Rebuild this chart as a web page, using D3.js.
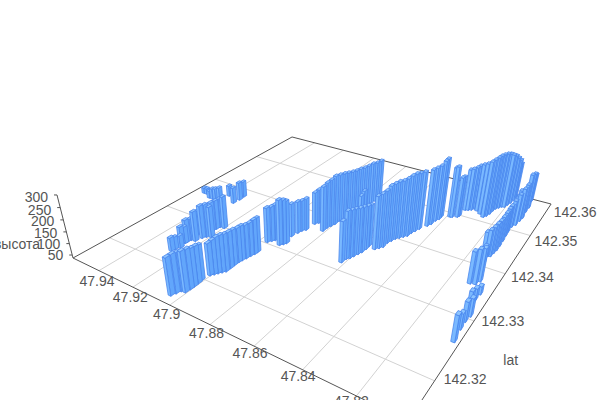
<!DOCTYPE html><html><head><meta charset="utf-8"><script src="https://cdnjs.cloudflare.com/ajax/libs/d3/7.8.5/d3.min.js"></script>
<style>html,body{margin:0;background:#fff;overflow:hidden}text{font-family:"Liberation Sans",Arial,sans-serif;font-size:14px;fill:#555}</style></head><body><svg width="600" height="400"></svg><script>
const lonTicks=[47.94,47.92,47.9,47.88,47.86,47.84,47.82];
const latTicks=[142.32,142.33,142.34,142.35,142.36];
const heightTicks=[50,100,150,200,250,300];
const lons=[47.9042,47.9035,47.9028,47.9010,47.9008,47.9008,47.9009,47.9013,47.9264,47.9261,47.9249,47.9268,47.9259,47.9258,47.9254,47.9234,47.9261,47.9226,47.9216,47.9198,47.9229,47.9226,47.9222,47.9201,47.9512,47.9496,47.9455,47.9435,47.9416,47.9392,47.9386,47.9321,47.9317,47.9320,47.9006,47.8997,47.8989,47.8980,47.8971,47.8971,47.8972,47.8971,47.8968,47.8963,47.8959,47.8954,47.8953,47.8966,47.8956,47.8947,47.8908,47.8898,47.8892,47.8907,47.8900,47.8895,47.8884,47.8880,47.8870,47.8816,47.8815,47.8809,47.8803,47.8802,47.8796,47.8790,47.8784,47.8774,47.8772,47.8766,47.8769,47.8763,47.8756,47.8750,47.8617,47.8614,47.8604,47.8598,47.8591,47.8585,47.8582,47.8583,47.8699,47.8701,47.8550,47.8539,47.8529,47.8529,47.8522,47.8515,47.8504,47.8493,47.8482,47.8478,47.8471,47.8463,47.8444,47.8436,47.8432,47.8424,47.8424,47.8389,47.8381,47.8361,47.8357,47.8355,47.8343,47.8331,47.8323,47.8304,47.8282,47.8260,47.8252,47.8246,47.8244,47.8239,47.8230,47.8221,47.8209,47.8204,47.8198,47.8195,47.8194,47.8047,47.8054,47.8055,47.8050,47.8079,47.8070,47.8066,47.8123,47.8104,47.8095,47.8126,47.8146,47.8132,47.8122,47.8119,47.8116,47.8116,47.8118,47.8121,47.8123,47.8123,47.8125,47.8134,47.8113,47.8109,47.8106,47.8111,47.8110,47.8119];
const lats=[142.3160,142.3166,142.3172,142.3173,142.3180,142.3186,142.3193,142.3199,142.3224,142.3229,142.3235,142.3242,142.3246,142.3249,142.3256,142.3257,142.3269,142.3267,142.3272,142.3275,142.3287,142.3294,142.3300,142.3301,142.3360,142.3360,142.3353,142.3353,142.3353,142.3354,142.3373,142.3360,142.3372,142.3382,142.3212,142.3216,142.3220,142.3224,142.3228,142.3236,142.3243,142.3251,142.3256,142.3262,142.3269,142.3275,142.3280,142.3305,142.3310,142.3314,142.3308,142.3312,142.3316,142.3333,142.3344,142.3351,142.3356,142.3375,142.3380,142.3366,142.3375,142.3382,142.3389,142.3399,142.3407,142.3414,142.3422,142.3427,142.3437,142.3445,142.3458,142.3467,142.3475,142.3483,142.3318,142.3327,142.3331,142.3337,142.3344,142.3350,142.3359,142.3367,142.3403,142.3412,142.3365,142.3370,142.3375,142.3386,142.3393,142.3400,142.3405,142.3410,142.3415,142.3424,142.3431,142.3439,142.3452,142.3459,142.3470,142.3477,142.3484,142.3491,142.3492,142.3496,142.3500,142.3520,142.3522,142.3525,142.3530,142.3527,142.3521,142.3515,142.3520,142.3528,142.3538,142.3546,142.3551,142.3556,142.3558,142.3566,142.3574,142.3585,142.3593,142.3261,142.3282,142.3296,142.3307,142.3332,142.3337,142.3349,142.3362,142.3364,142.3372,142.3407,142.3426,142.3426,142.3428,142.3437,142.3445,142.3456,142.3470,142.3484,142.3495,142.3510,142.3525,142.3546,142.3518,142.3531,142.3541,142.3560,142.3574,142.3596];
const heights=[191,196,196,204,200,193,190,182,95,90,91,113,109,135,131,166,141,179,180,171,164,164,165,178,62,62,71,86,91,100,86,109,119,110,171,180,188,192,192,189,186,182,183,179,179,184,184,187,187,192,232,228,220,180,176,172,177,179,188,233,238,243,252,245,242,238,234,235,231,228,220,221,217,218,211,240,240,237,233,230,223,215,174,183,263,268,276,282,283,284,284,289,297,295,291,288,285,286,283,297,298,259,264,216,216,223,227,232,236,249,265,285,290,291,288,285,285,281,277,265,248,226,200,142,101,117,110,78,83,70,169,181,174,115,137,150,162,163,164,164,161,158,154,155,156,149,174,183,189,208,196,162];
const latName="lat",heightName="высота";

// projective camera fitted to the floor corners and the vertical axis of the picture
const g=-0.3006,h=0.4594,a=212.4,b=353.2,c=73,d=36.5,e=-58.1,f=258,lam=-0.064,Vx=307,Vy=1180;
const lonS=d3.scaleLinear([47.9565,47.8026],[0,1]),latS=d3.scaleLinear([142.3145,142.36],[0,1]),zS=d3.scaleLinear([36.8,300],[0,1]);
const P=(lon,lat,zv)=>{const u=lonS(lon),v=latS(lat),z=zS(zv);const W=g*u+h*v+1+lam*z;return [(a*u+b*v+c+lam*Vx*z)/W,(d*u+e*v+f+lam*Vy*z)/W,W]};
const svg=d3.select("svg"),line=d3.line(),zF=zS.domain()[0];
const [lon0,lon1]=lonS.domain(),[lat0,lat1]=latS.domain();
const gl=svg.append("g").attr("stroke","#d2d2d2").attr("fill","none");
gl.selectAll(".lo").data(lonTicks).join("path").attr("d",t=>line([P(t,lat0,zF),P(t,lat1,zF)]));
gl.selectAll(".la").data(latTicks.slice(0,4)).join("path").attr("class","la").attr("d",t=>line([P(lon0,t,zF),P(lon1,t,zF)]));
svg.append("path").attr("fill","none").attr("stroke","#555").attr("d",line([P(lon0,lat0,zF),P(lon1,lat0,zF),P(lon1,lat1,zF),P(lon0,lat1,zF),P(lon0,lat0,zF),P(lon0,lat0,300)]));
const zDy=d3.scaleLinear([50,300],[5,7.5]);
heightTicks.forEach(t=>{const p=P(lon0,lat0,t);svg.append("path").attr("stroke","#555").attr("d",line([p.slice(0,2),[p[0]-3,p[1]]]));svg.append("text").attr("x",p[0]-9).attr("y",p[1]+zDy(t)).attr("text-anchor","end").text(t)});
const lonDx=d3.scaleLinear([47.94,47.82],[-2,-5]),lonDy=d3.scaleLinear([47.94,47.82],[10.7,5]),latDx=d3.scaleLinear([142.32,142.36],[30.5,24]),latDy=d3.scaleLinear([142.32,142.36],[-2,8]);
lonTicks.forEach(t=>{const p=P(t,lat0,zF);svg.append("text").attr("x",p[0]+lonDx(t)).attr("y",p[1]+lonDy(t)+5).attr("text-anchor","middle").text(t)});
latTicks.forEach(t=>{const p=P(lon1,t,zF);svg.append("text").attr("x",p[0]+latDx(t)).attr("y",p[1]+latDy(t)+5).attr("text-anchor","middle").text(t)});
svg.append("text").attr("x",510.7).attr("y",365).attr("text-anchor","middle").text(latName);
svg.append("text").attr("x",17).attr("y",249).attr("text-anchor","middle").text(heightName);
const dl=.0007,dt=.00034;
const bars=lons.map((lo,i)=>({lo,la:lats[i],z:heights[i],w:P(lo,lats[i],zF)[2]})).sort((p,q)=>q.w-p.w);
const quad=pts=>line(pts.map(p=>p.slice(0,2)))+"Z";
const bg=svg.append("g").attr("stroke","#4a86ee").attr("stroke-width",.8).attr("stroke-linejoin","round").selectAll("g").data(bars).join("g");
bg.append("path").attr("fill","#62a6fb").attr("d",o=>quad([P(o.lo-dl,o.la-dt,zF),P(o.lo-dl,o.la+dt,zF),P(o.lo-dl,o.la+dt,o.z),P(o.lo-dl,o.la-dt,o.z)]));
bg.append("path").attr("fill","#7ab9ff").attr("d",o=>quad([P(o.lo+dl,o.la-dt,zF),P(o.lo-dl,o.la-dt,zF),P(o.lo-dl,o.la-dt,o.z),P(o.lo+dl,o.la-dt,o.z)]));
bg.append("path").attr("fill","#8cc4ff").attr("d",o=>quad([P(o.lo+dl,o.la-dt,o.z),P(o.lo-dl,o.la-dt,o.z),P(o.lo-dl,o.la+dt,o.z),P(o.lo+dl,o.la+dt,o.z)]));
</script></body></html>
